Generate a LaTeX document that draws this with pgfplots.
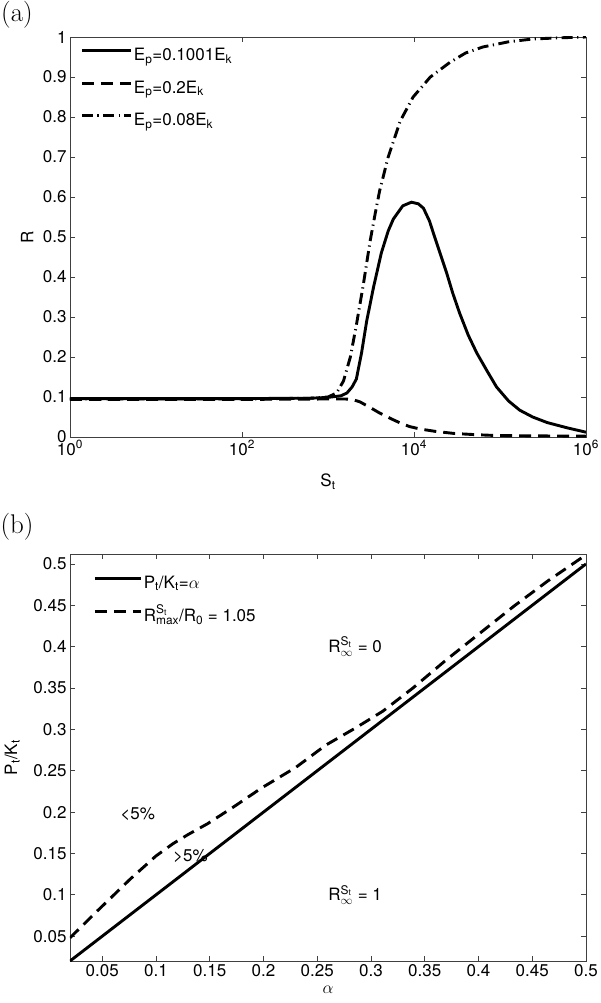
\documentclass[border=0pt]{standalone}
\usepackage{fontspec}
\setsansfont{TeX Gyre Heros}
\usepackage{amsmath}
\usepackage{pgfplots}
\pgfplotsset{compat=1.18}
\newcommand\ff{\fontsize{17}{20}\selectfont\sffamily}
\tikzset{
  msolid/.style={line width=2.9pt, solid},
  mdash/.style={line width=2.9pt, dash pattern=on 12pt off 7pt},
  mdashdot/.style={line width=2.9pt, dash pattern=on 11pt off 4.5pt on 1.2pt off 4.5pt},
}
\begin{document}
\begin{tikzpicture}
\pgfplotsset{
  every axis/.append style={
    scale only axis, font=\ff,
    axis line style={black!75, line width=0.8pt},
    every tick/.style={black!75, line width=0.8pt},
    major tick length=5pt,
    tick align=inside,
    /pgf/number format/assume math mode=true,
    /pgf/number format/fixed,
    /pgf/number format/precision=2,
    legend cell align=left,
    ticklabel style={font=\ff},
  },
}
% ---------- (a) ----------
\begin{axis}[
  at={(70pt,-437pt)}, anchor=south west,
  width=516pt, height=400pt,
  xmin=0, xmax=6, ymin=0, ymax=1,
  xtick={0,2,4,6},
  xticklabels={10\textsuperscript{0},10\textsuperscript{2},10\textsuperscript{4},10\textsuperscript{6}},
  ytick={0,0.1,0.2,0.3,0.4,0.5,0.6,0.7,0.8,0.9,1},
  xlabel={S\textsubscript{t}},
  xlabel style={at={(axis description cs:0.5,-0.112)}, anchor=center},
  ylabel={R},
  ylabel style={at={(axis description cs:-0.083,0.5)}, anchor=center},
  legend style={draw=none, fill=none, at={(axis description cs:0.02,0.975)}, anchor=north west,
    inner sep=0pt, row sep=13.5pt, column sep=0pt, font=\ff,
    nodes={inner sep=1.5pt, text height=12pt, text depth=4pt}},
  legend image code/.code={\draw[#1] (0pt,6pt) -- (49pt,6pt);},
]
\addplot[msolid] coordinates {
(0,0.096) (1,0.096) (2,0.096) (2.8,0.097) (3.0,0.099) (3.15,0.103) (3.22,0.11) (3.28,0.125)
(3.33,0.145) (3.39,0.21) (3.45,0.29) (3.53,0.375) (3.62,0.46) (3.70,0.515) (3.76,0.545)
(3.87,0.578) (3.97,0.587) (4.05,0.583) (4.11,0.572) (4.18,0.54) (4.24,0.50) (4.31,0.455)
(4.38,0.41) (4.45,0.36) (4.53,0.31) (4.63,0.255) (4.73,0.21) (4.85,0.165) (4.96,0.125)
(5.1,0.09) (5.23,0.067) (5.38,0.05) (5.55,0.036) (5.78,0.023) (6.0,0.012)};
\addlegendentry{E\textsubscript{p}=0.1001E\textsubscript{k}}
\addplot[mdash] coordinates {
(0,0.094) (2,0.094) (3.0,0.095) (3.2,0.095) (3.28,0.094) (3.37,0.088) (3.48,0.075) (3.60,0.06)
(3.72,0.047) (3.84,0.035) (3.95,0.026) (4.07,0.02) (4.25,0.014) (4.46,0.009) (4.7,0.006)
(4.92,0.004) (5.3,0.003) (6,0.002)};
\addlegendentry{E\textsubscript{p}=0.2E\textsubscript{k}}
\addplot[mdashdot] coordinates {
(0,0.095) (2,0.095) (2.8,0.097) (3.0,0.10) (3.1,0.11) (3.18,0.14) (3.26,0.20) (3.33,0.28)
(3.41,0.38) (3.49,0.49) (3.55,0.56) (3.60,0.615) (3.70,0.70) (3.84,0.79) (3.99,0.85)
(4.19,0.90) (4.42,0.937) (4.6,0.96) (4.80,0.975) (5.1,0.988) (5.38,0.995) (5.7,0.998) (6,1.0)};
\addlegendentry{E\textsubscript{p}=0.08E\textsubscript{k}}
\end{axis}
% ---------- (b) ----------
\begin{axis}[
  at={(70pt,-961pt)}, anchor=south west,
  width=516pt, height=407pt,
  xmin=0.02, xmax=0.5, ymin=0.02, ymax=0.512,
  xtick={0.05,0.1,0.15,0.2,0.25,0.3,0.35,0.4,0.45,0.5},
  ytick={0.05,0.1,0.15,0.2,0.25,0.3,0.35,0.4,0.45,0.5},
  xlabel={$\alpha$},
  xlabel style={at={(axis description cs:0.5,-0.071)}, anchor=center},
  ylabel={P\textsubscript{t}/K\textsubscript{t}},
  ylabel style={at={(axis description cs:-0.112,0.5)}, anchor=center},
  legend style={draw=none, fill=none, at={(axis description cs:0.045,0.95)}, anchor=north west,
    inner sep=0pt, row sep=14.5pt, column sep=0pt, font=\ff,
    nodes={inner sep=1.5pt, text height=12pt, text depth=4pt}},
  legend image code/.code={\draw[#1] (0pt,6pt) -- (46pt,6pt);},
]
\addplot[msolid] coordinates {(0.02,0.02) (0.5,0.5)};
\addlegendentry{P\textsubscript{t}/K\textsubscript{t}=$\alpha$}
\addplot[mdash] coordinates {
(0.020,0.048) (0.045,0.080) (0.076,0.119) (0.100,0.147) (0.116,0.162) (0.130,0.173)
(0.148,0.186) (0.173,0.207) (0.198,0.229) (0.230,0.254) (0.258,0.281) (0.286,0.302)
(0.311,0.322) (0.339,0.350) (0.370,0.384) (0.402,0.417) (0.433,0.449) (0.464,0.479) (0.5,0.511)};
\addlegendentry{R$^{\text{S}_{\text{t}}}_{\text{max}}$/R$_{\text{0}}$ = 1.05}
\node[anchor=west, font=\ff] at (axis cs:0.257,0.40) {R$^{\text{S}_{\text{t}}}_{\infty}$ = 0};
\node[anchor=west, font=\ff] at (axis cs:0.257,0.10) {R$^{\text{S}_{\text{t}}}_{\infty}$ = 1};
\node[font=\ff] at (axis cs:0.083,0.198) {<5\%};
\node[font=\ff] at (axis cs:0.132,0.147) {>5\%};
\end{axis}
\node[font=\fontsize{27}{31}\selectfont\rmfamily] at (17pt,-15pt) {(a)};
\node[font=\fontsize{27}{31}\selectfont\rmfamily] at (17pt,-527pt) {(b)};
\pgfresetboundingbox
\useasboundingbox (0pt,0pt) rectangle (600pt,-1003pt);
\end{tikzpicture}
\end{document}
